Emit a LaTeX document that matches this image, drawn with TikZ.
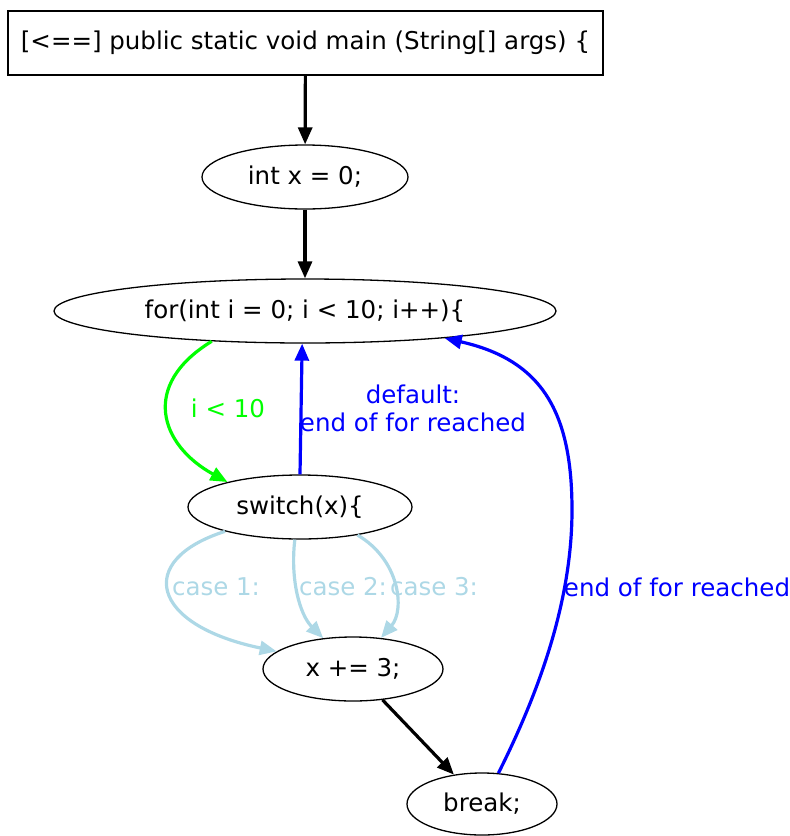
\documentclass[tikz,border=0pt]{standalone}
\usepackage{fontspec}
\setmainfont{DejaVu Sans}
\usetikzlibrary{shapes.geometric,arrows.meta}
\definecolor{lblue}{RGB}{173,216,230}
\definecolor{pureblue}{RGB}{0,0,255}
\definecolor{puregreen}{RGB}{0,255,0}
\begin{document}
\begin{tikzpicture}[x=1pt,y=-1pt,
  every node/.style={font=\fontsize{24.5}{29}\selectfont},
  state/.style={ellipse,draw,line width=1.3pt,inner sep=0pt},
  entry/.style={rectangle,draw,line width=1.3pt,inner sep=0pt},
  flow/.style={line width=3.2pt,-{Triangle[length=17pt,width=14pt]}},
  lbl/.style={inner sep=0pt,anchor=center}
]
\useasboundingbox (0,0) rectangle (790,836);

% statements
\node[entry,minimum width=595pt,minimum height=64pt] (main) at (305.5,43) {[<==] public static void main (String[] args) \{};
\node[state,minimum width=206pt,minimum height=64pt] (init) at (305,177) {int x = 0;};
\node[state,minimum width=502pt,minimum height=64pt] (loop) at (305,311) {for(int i = 0; i < 10; i++)\{};
\node[state,minimum width=224pt,minimum height=64pt] (sw) at (300,507) {switch(x)\{};
\node[state,minimum width=180pt,minimum height=64pt] (inc) at (353,669) {x += 3;};
\node[state,minimum width=150pt,minimum height=62pt] (brk) at (482,804) {break;};

% straight control flow
\draw[flow] (main) -- (init);
\draw[flow] (init) -- (loop);
\draw[flow] (inc) -- (brk);

% loop condition
\draw[flow,puregreen] (loop.198) .. controls (140,385) and (160,445) .. (sw.161);
\node[lbl,text=puregreen] (lcond) at (228,408) {i < 10};

% default branch back to the loop head
\draw[flow,pureblue] (sw.north) -- (loop.265);
\node[lbl,text=pureblue,align=center] (ldef) at (413,408) {default:\\[-1pt]end of for reached};

% switch cases
\draw[flow,lblue] (sw.198) .. controls (135,560) and (150,625) .. (inc.167);
\node[lbl,text=lblue] (lc1) at (216,587) {case 1:};
\draw[flow,lblue] (sw.261) .. controls (290,580) and (300,615) .. (inc.134);
\node[lbl,text=lblue] (lc2) at (343,587) {case 2:};
\draw[flow,lblue] (sw.334) .. controls (400,560) and (405,610) .. (inc.48);
\node[lbl,text=lblue] (lc3) at (434,587) {case 3:};

% break leaves the loop
\draw[flow,pureblue] (brk.62) .. controls (540,690) and (572,600) .. (572,510)
  .. controls (572,412) and (542,360) .. (loop.349.5);
\node[lbl,text=pureblue] (lend) at (677,587) {end of for reached};
\end{tikzpicture}
\end{document}
